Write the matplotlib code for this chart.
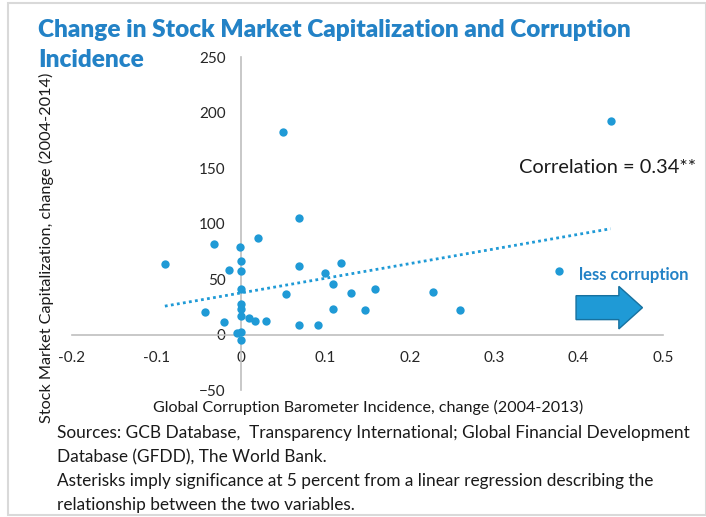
import numpy as np
import matplotlib
matplotlib.use("Agg")
import matplotlib.pyplot as plt
from matplotlib.patches import FancyArrow, Rectangle

# GCB incidence change (2004-2013) vs stock market capitalization change (2004-2014)
gcb_change = [
    -0.090, -0.0315, -0.0145, -0.042, -0.020, -0.0015, 0.0, 0.0, 0.0, 0.0,
    0.0, 0.0, 0.0096, 0.0167, 0.0297, 0.020, -0.005, 0.0, 0.0, 0.069,
    0.069, 0.069, 0.0535, 0.0917, 0.0997, 0.109, 0.109, 0.1186, 0.130, 0.147,
    0.159, 0.050, 0.228, 0.259, 0.377, 0.438,
]
mktcap_change = [
    64, 82, 58, 20.7, 11, 79, 66, 57, 41.4, 28,
    23.5, 17, 15, 12, 12, 87, 1.2, 2.4, -4.8, 105.4,
    62, 8.7, 36.3, 8.7, 56, 45.3, 22.8, 64.2, 37.5, 21.9,
    41.4, 182.5, 38.5, 22.5, 57.3, 193,
]

x_ticks = [-0.2, -0.1, 0, 0.1, 0.2, 0.3, 0.4, 0.5]
x_tick_labels = ["-0.2", "-0.1", "0", "0.1", "0.2", "0.3", "0.4", "0.5"]
y_ticks = [-50, 0, 50, 100, 150, 200, 250]

title_lines = ["Change in Stock Market Capitalization and Corruption", "Incidence"]
x_label = "Global Corruption Barometer Incidence, change (2004-2013)"
y_label = "Stock Market Capitalization, change (2004-2014)"
corr_text = "Correlation = 0.34**"
arrow_text = "less corruption"
notes = [
    "Sources: GCB Database,  Transparency International; Global Financial Development",
    "Database (GFDD), The World Bank.",
    "Asterisks imply significance at 5 percent from a linear regression describing the",
    "relationship between the two variables.",
]

W, H = 706, 517
dot_blue = "#1F9AD6"
title_blue = "#2382C6"
axis_gray = "#BFBFBF"


def fx(px):
    return px / W


def fy(py):
    return 1 - py / H


plt.rcParams["font.family"] = ["Lato", "DejaVu Sans"]

fig = plt.figure(figsize=(W / 100, H / 100), dpi=100)
fig.patch.set_facecolor("white")

# light frame around the whole picture
fig.add_artist(Rectangle((fx(8), fy(515)), fx(706) - fx(8), fy(3) - fy(515),
                         transform=fig.transFigure, fill=False,
                         edgecolor="#D9D9D9", linewidth=1.5))

ax = fig.add_axes([fx(72), fy(390), fx(663) - fx(72), fy(57.5) - fy(390)])
ax.set_xlim(-0.2, 0.5)
ax.set_ylim(-50, 250)

ax.spines["top"].set_visible(False)
ax.spines["right"].set_visible(False)
ax.spines["left"].set_position(("data", 0))
ax.spines["bottom"].set_position(("data", 0))
for s in ("left", "bottom"):
    ax.spines[s].set_color(axis_gray)
    ax.spines[s].set_linewidth(1.2)

ax.set_xticks(x_ticks)
ax.set_xticklabels(x_tick_labels)
ax.set_yticks(y_ticks)
ax.tick_params(axis="x", length=0, pad=12, labelsize=11, colors="#262626")
ax.tick_params(axis="y", length=0, pad=11, labelsize=11, colors="#262626")

xs = np.array(gcb_change)
ys = np.array(mktcap_change)
ax.scatter(xs, ys, s=36, color=dot_blue, zorder=3, linewidths=0)

# linear trend over the data range
slope, intercept = np.polyfit(xs, ys, 1)
tx = np.array([xs.min(), xs.max()])
ax.plot(tx, slope * tx + intercept, linestyle=(0, (1, 1.2)), color=dot_blue,
        linewidth=2, zorder=2)

ax.text(0.329, 151, corr_text, fontsize=14.4, color="#1A1A1A", ha="left", va="center")
ax.text(0.400, 54, arrow_text, fontsize=12, fontweight="bold", color=title_blue,
        ha="left", va="center")
ax.add_patch(FancyArrow(0.397, 24.3, 0.0787, 0, width=21.6, head_width=38.4,
                        head_length=0.028, length_includes_head=True,
                        facecolor=dot_blue, edgecolor="#17719F", linewidth=1,
                        zorder=4))

for i, line in enumerate(title_lines):
    fig.text(fx(38), fy(30 + 30 * i), line, fontsize=17.6, fontweight="heavy",
             color=title_blue, ha="left", va="center")
fig.text(fx(368), fy(407), x_label, fontsize=11.6, color="#1A1A1A", ha="center", va="center")
fig.text(fx(46), fy(248), y_label, fontsize=11.7, color="#1A1A1A", ha="center",
         va="center", rotation=90)

for i, line in enumerate(notes):
    fig.text(fx(57), fy(433 + 24 * i), line, fontsize=12.4, color="#1A1A1A",
             ha="left", va="center")

fig.savefig("out.png", dpi=100)
